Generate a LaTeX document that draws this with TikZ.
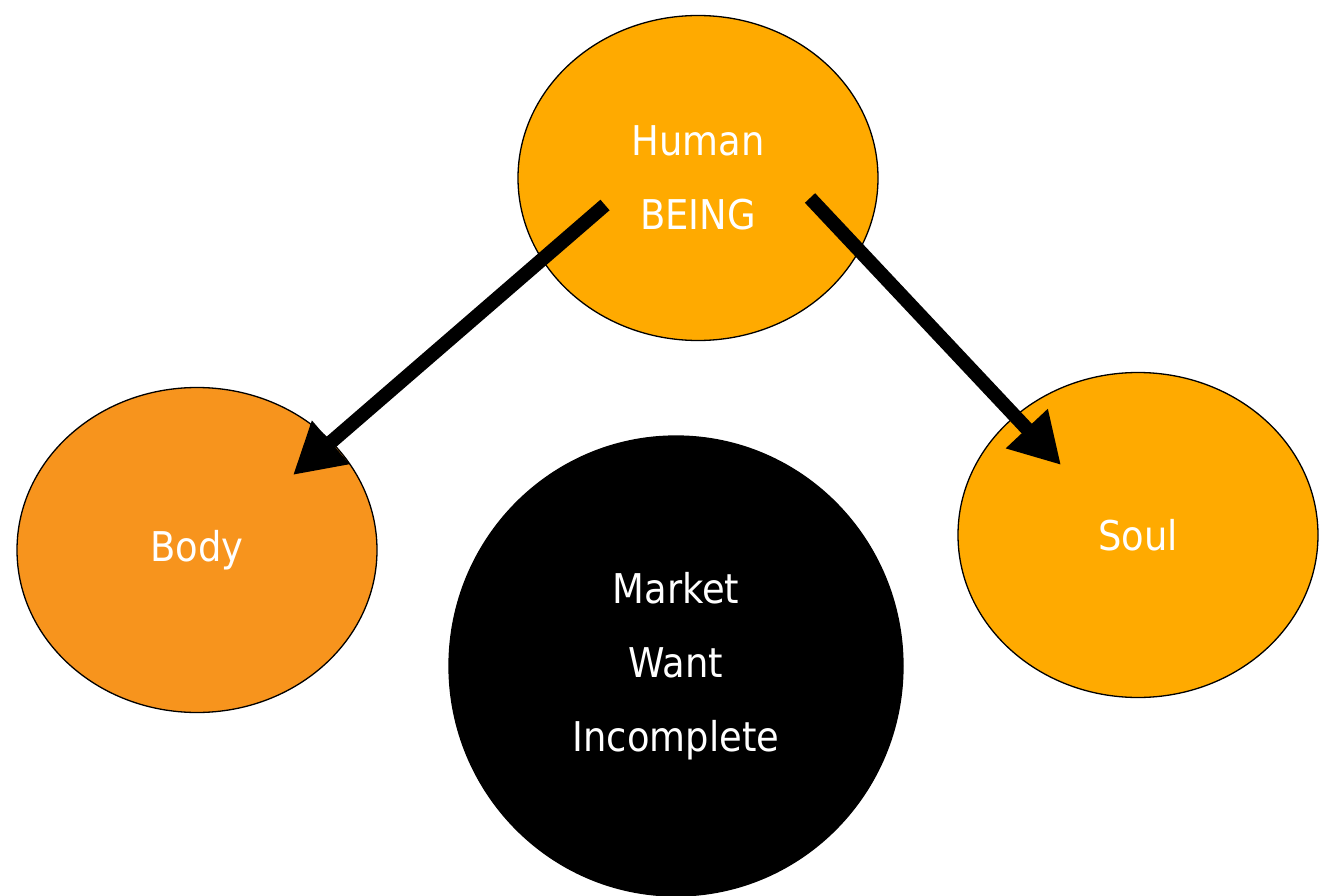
\documentclass[tikz,border=0pt]{standalone}
\usepackage{fontspec}
\setmainfont{DejaVu Sans}[FakeStretch=0.9]
\usetikzlibrary{shapes.geometric,arrows.meta}
\definecolor{humanorange}{RGB}{255,170,0}
\definecolor{bodyorange}{RGB}{247,148,29}
\tikzset{
  blob/.style={ellipse, draw=black, line width=1.3pt, inner sep=0pt,
    text=white, align=center, font=\fontsize{41}{74}\selectfont,
    minimum width=360pt, minimum height=325pt},
  bigarrow/.style={line width=14pt, -{Triangle[length=50pt,width=54pt]}}
}
\begin{document}
\begin{tikzpicture}[x=1pt,y=-1pt]
\useasboundingbox (0,0) rectangle (1326,896);
\node[blob, fill=humanorange] (human) at (698,178) {Human\\BEING};
\node[blob, fill=bodyorange] (body) at (197,550) {Body};
\node[blob, fill=humanorange] (soul) at (1138,535) {Soul};
\node[blob, fill=black, minimum width=454pt, minimum height=460pt] (market) at (676,666) {Market\\Want\\Incomplete};
\coordinate (a1s) at (605,205);
\coordinate (a1e) at (293,475);
\coordinate (a2s) at (810,198);
\coordinate (a2e) at (1061,465);
\draw[bigarrow] (a1s) -- (a1e);
\draw[bigarrow] (a2s) -- (a2e);
\end{tikzpicture}
\end{document}
